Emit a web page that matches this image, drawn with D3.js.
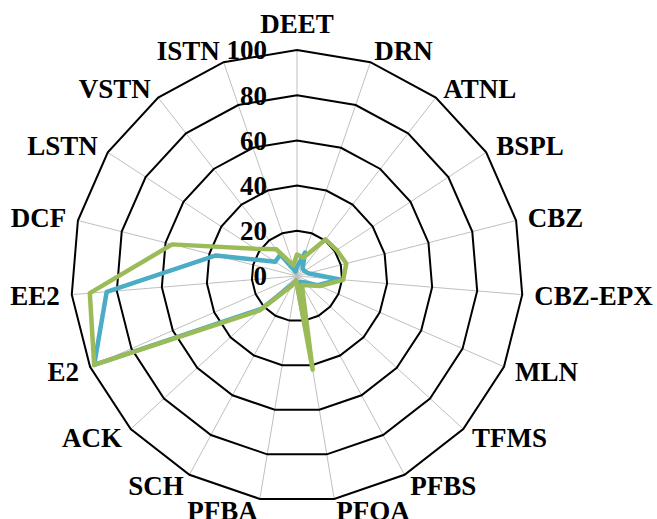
<!DOCTYPE html>
<html>
<head>
<meta charset="utf-8">
<script src="https://cdn.jsdelivr.net/npm/d3@7/dist/d3.min.js"></script>
<style>
  html, body { margin: 0; padding: 0; background: #fff; }
  svg { display: block; }
</style>
</head>
<body>
<svg id="chart" width="657" height="519"></svg>
<script>
const categories = ["DEET","DRN","ATNL","BSPL","CBZ","CBZ-EPX","MLN","TFMS","PFBS","PFOA","PFBA","SCH","ACK","E2","EE2","DCF","LSTN","VSTN","ISTN"];
const seriesBlue  = [4, 11, 4, 4, 5, 19, 10, 4, 3, 26, 2, 4, 21.5, 98, 84.5, 37, 11.5, 12, 2];
const seriesGreen = [9.5, 8.5, 20.5, 21, 22.5, 20.5, 11, 6, 4.5, 42, 2, 5, 22.5, 98, 92, 57, 22, 15, 5];
const tickValues = [0, 20, 40, 60, 80, 100];

const FONT = "'Liberation Serif', 'Times New Roman', serif";
const svg = d3.select("#chart");
const cx = 297, cy = 276, R = 226;
const n = categories.length;
const r = d3.scaleLinear().domain([0, 100]).range([0, R]);
const ang = d3.scaleLinear().domain([0, n]).range([0, 2 * Math.PI]);

const g = svg.append("g").attr("transform", `translate(${cx},${cy})`);
const pt = (i, v) => [Math.sin(ang(i)) * r(v), -Math.cos(ang(i)) * r(v)];

// spokes
g.selectAll("line.spoke").data(categories).enter().append("line")
  .attr("class", "spoke")
  .attr("x1", 0).attr("y1", 0)
  .attr("x2", (d, i) => pt(i, 100)[0])
  .attr("y2", (d, i) => pt(i, 100)[1])
  .attr("stroke", "#bfbfbf").attr("stroke-width", 1);

// rings
const ringLine = d3.lineRadial().angle((d, i) => ang(i)).radius(d => r(d)).curve(d3.curveLinearClosed);
g.selectAll("path.ring").data(tickValues.filter(t => t > 0)).enter().append("path")
  .attr("class", "ring")
  .attr("d", t => ringLine(categories.map(() => t)))
  .attr("fill", "none").attr("stroke", "#000").attr("stroke-width", 2);

// tick labels
g.selectAll("text.tick").data(tickValues).enter().append("text")
  .attr("class", "tick")
  .attr("x", -30)
  .attr("y", t => -r(t))
  .attr("dy", "0.35em")
  .attr("text-anchor", "end")
  .attr("font-family", FONT)
  .attr("font-weight", "bold")
  .attr("font-size", 27)
  .text(t => t);

// series
const dataLine = d3.lineRadial().angle((d, i) => ang(i)).radius(d => r(d)).curve(d3.curveLinearClosed);
[[seriesBlue, "#4bacc6"], [seriesGreen, "#9bbb59"]].forEach(([s, c]) => {
  g.append("path")
    .attr("d", dataLine(s))
    .attr("fill", "none")
    .attr("stroke", c)
    .attr("stroke-width", 4.5)
    .attr("stroke-linejoin", "round");
});

// category labels
g.selectAll("text.cat").data(categories).enter().append("text")
  .attr("class", "cat")
  .attr("font-family", FONT)
  .attr("font-weight", "bold")
  .attr("font-size", 27)
  .each(function(d, i) {
    const a = ang(i);
    const s = Math.sin(a), c = Math.cos(a);
    const p = pt(i, 100);
    const el = d3.select(this);
    if (Math.abs(s) < 0.05) {
      el.attr("x", p[0]).attr("y", p[1] - c * 26).attr("text-anchor", "middle");
    } else {
      const q = [s * (R + 12), -c * (R + 12)];
      el.attr("x", q[0]).attr("y", q[1]).attr("text-anchor", s > 0 ? "start" : "end");
    }
    el.attr("dy", "0.35em").text(d);
  });
</script>
</body>
</html>
